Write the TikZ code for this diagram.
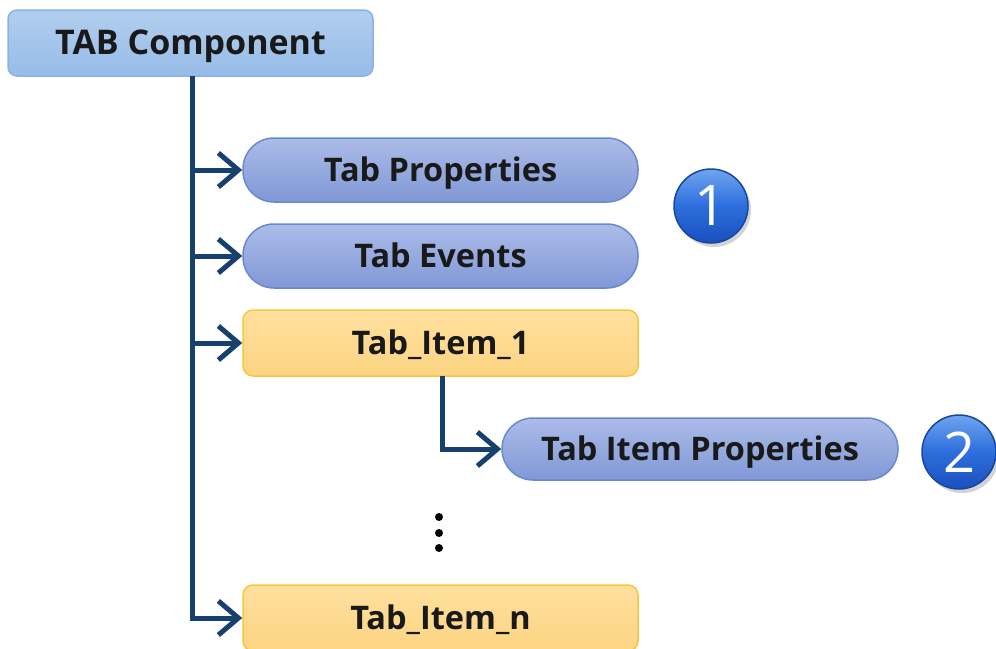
\documentclass[tikz,border=0pt]{standalone}
\usepackage{fontspec}
\setmainfont{Open Sans}
\usetikzlibrary{arrows.meta,shadows}
\definecolor{navy}{RGB}{23,64,110}
\definecolor{pilltop}{RGB}{172,188,232}
\definecolor{pillbot}{RGB}{128,152,214}
\definecolor{pillline}{RGB}{104,137,207}
\definecolor{hdtop}{RGB}{178,206,238}
\definecolor{hdbot}{RGB}{150,188,232}
\definecolor{hdline}{RGB}{140,178,226}
\definecolor{yeltop}{RGB}{254,224,158}
\definecolor{yelbot}{RGB}{253,212,130}
\definecolor{yelline}{RGB}{250,196,64}
\definecolor{badgetop}{RGB}{110,165,240}
\definecolor{badgemid}{RGB}{45,110,220}
\definecolor{badgebot}{RGB}{25,80,190}
\definecolor{badgeline}{RGB}{25,70,160}
\tikzset{
  lbl/.style={font=\bfseries\fontsize{32.5}{38}\selectfont, text=black!90, text height=26pt, text depth=3pt},
  header/.style={lbl, font=\bfseries\fontsize{34}{38}\selectfont, draw=hdline, line width=1.5pt, rounded corners=9pt,
    top color=hdtop, bottom color=hdbot, minimum width=365pt, minimum height=66pt, inner sep=0pt},
  pill/.style={lbl, draw=pillline, line width=1.5pt, rounded corners=31pt,
    top color=pilltop, bottom color=pillbot, minimum width=395pt, minimum height=64pt, inner sep=0pt},
  item/.style={lbl, draw=yelline, line width=1.5pt, rounded corners=10pt,
    top color=yeltop, bottom color=yelbot, minimum width=395pt, minimum height=66pt, inner sep=0pt},
  conn/.style={draw=navy, line width=5pt, -{Straight Barb[length=20pt,width=34pt,line width=5pt]}},
  trunkline/.style={draw=navy, line width=5pt},
  badgec/.style={circle, minimum size=74pt, inner sep=0pt, draw=badgeline, line width=1.5pt,
    top color=badgetop, bottom color=badgebot, middle color=badgemid,
    font=\fontsize{56}{56}\selectfont, text=white,
    drop shadow={shadow xshift=3pt, shadow yshift=-4pt, opacity=0.35}},
  dotc/.style={circle, fill=black, inner sep=0pt, minimum size=8pt}
}
\begin{document}
\begin{tikzpicture}[x=1pt,y=-1pt]
\useasboundingbox (0,0) rectangle (996,648);
\node[header] (tab) at (190.5,43) {TAB Component};
\node[pill] (prop) at (440.5,170) {Tab Properties};
\node[pill] (events) at (440.5,256) {Tab Events};
\node[item] (item1) at (440.5,343) {Tab\_Item\_1};
\node[pill, minimum width=396pt, minimum height=62pt] (itemprop) at (700,449) {Tab Item Properties};
\node[item] (itemn) at (440.5,618) {Tab\_Item\_n};
\node[badgec] (b1) at (711,206) {1};
\node[badgec] (b2) at (959,452) {2};
\node[dotc] (d1) at (439,517) {};
\node[dotc] (d2) at (439,533) {};
\node[dotc] (d3) at (439,548) {};
\coordinate (trunk) at (192,76);
\coordinate (sub) at (442,376);
\draw[trunkline] (trunk) |- ([xshift=-18pt]itemn.west);
\draw[conn] (trunk |- itemn.west) -- (itemn.west);
\draw[conn] (trunk |- prop.west) -- (prop.west);
\draw[conn] (trunk |- events.west) -- (events.west);
\draw[conn] (trunk |- item1.west) -- (item1.west);
\draw[trunkline] (sub) |- ([xshift=-18pt]itemprop.west);
\draw[conn] (sub |- itemprop.west) -- (itemprop.west);
\end{tikzpicture}
\end{document}
